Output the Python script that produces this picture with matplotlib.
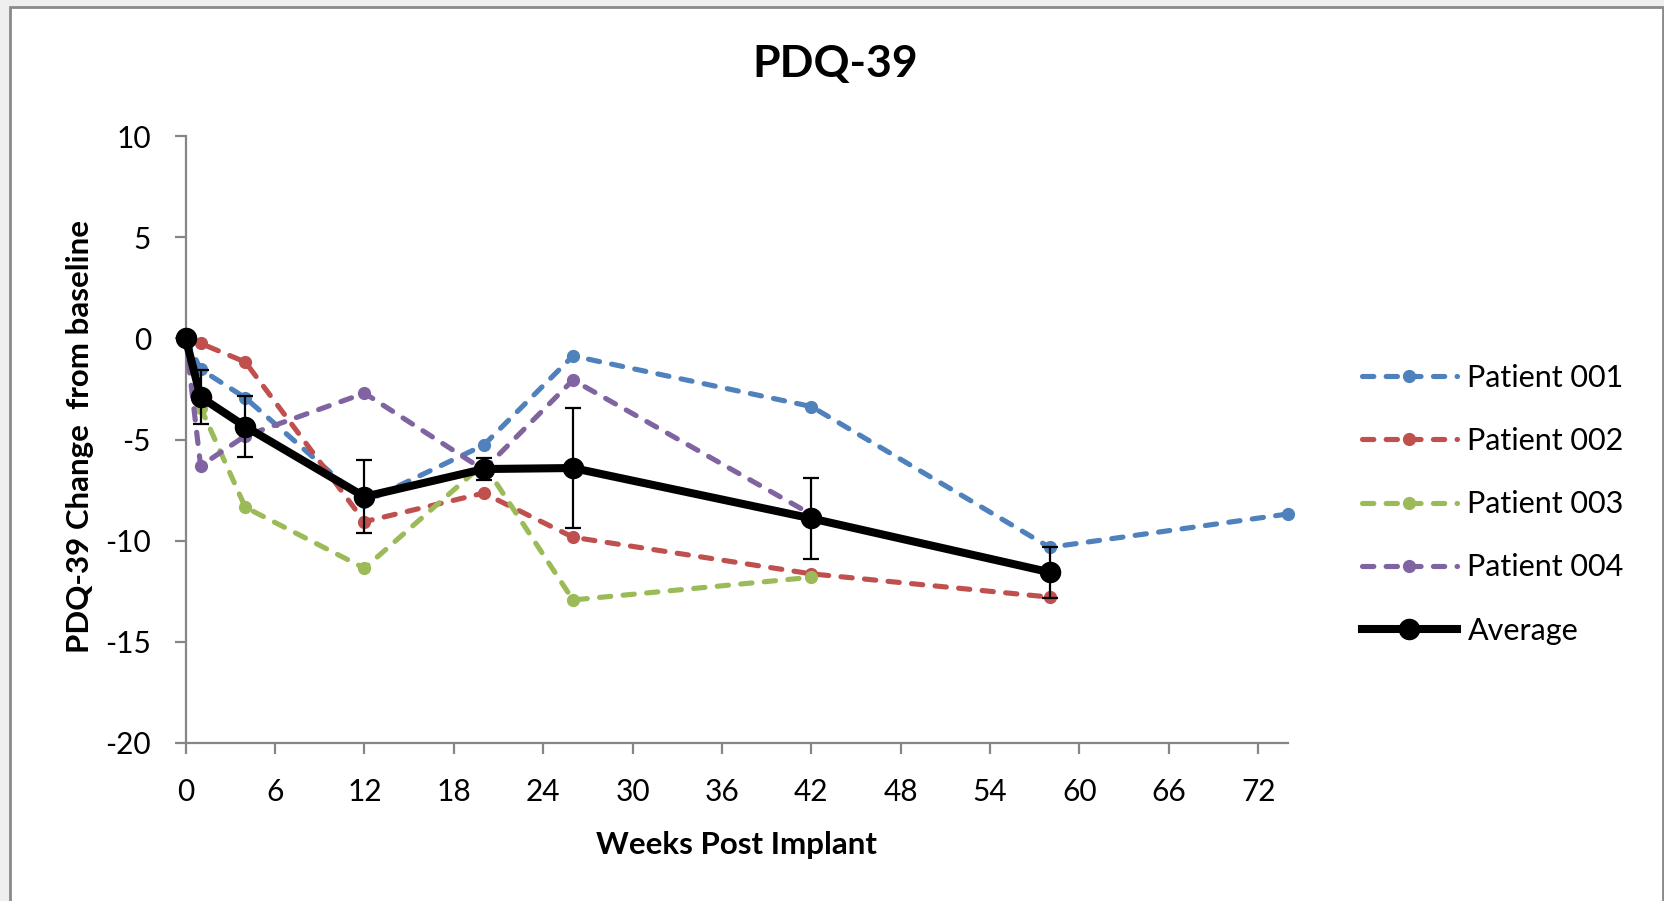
import numpy as np
import matplotlib
matplotlib.use('Agg')
import matplotlib.pyplot as plt
from matplotlib.patches import Rectangle

plt.rcParams['font.family'] = ['Lato', 'DejaVu Sans']
plt.rcParams['axes.unicode_minus'] = False

# weeks post implant
weeks = [0, 1, 4, 12, 20, 26, 42, 58, 74]

# change from baseline, one list per patient (None = no visit)
patient_001 = [0, -1.53, -2.94, -8.1, -5.28, -0.87, -3.37, -10.33, -8.68]
patient_002 = [0, -0.25, -1.17, -9.06, -7.65, -9.83, -11.64, -12.79, None]
patient_003 = [0, -3.42, -8.35, -11.36, -6.2, -12.93, -11.81, None, None]
patient_004 = [0, -6.3, -4.82, -2.71, -6.5, -2.06, -8.7, None, None]

avg_weeks = [0, 1, 4, 12, 20, 26, 42, 58]
average = [0, -2.9, -4.36, -7.83, -6.46, -6.41, -8.9, -11.56]
avg_err = [0, 1.32, 1.5, 1.8, 0.53, 2.95, 2.0, 1.26]

patients = {
    'Patient 001': (patient_001, '#4F81BD'),
    'Patient 002': (patient_002, '#C0504D'),
    'Patient 003': (patient_003, '#9BBB59'),
    'Patient 004': (patient_004, '#8064A2'),
}

fig = plt.figure(figsize=(16.65, 9.01), dpi=100)
fig.patch.set_facecolor('#efefef')
# white chart area with grey frame like the excel chart object
fig.patches.append(Rectangle((10 / 1665, -0.02), (1663 - 10) / 1665, 1.02 - 7 / 901,
                             transform=fig.transFigure, facecolor='white',
                             edgecolor='#8a8a8a', lw=2, zorder=-10))

ax = fig.add_axes([185.7 / 1665, 1 - 743 / 901, (1288 - 185.7) / 1665, (743 - 136) / 901])
ax.set_facecolor('none')

for name, (vals, col) in patients.items():
    x = [w for w, v in zip(weeks, vals) if v is not None]
    y = [v for v in vals if v is not None]
    ax.plot(x, y, color=col, lw=3.7, dashes=(2.2, 2.4), dash_capstyle='round',
            marker='o', markersize=8.5, label=name, clip_on=False, zorder=3)

# capsize is half the cap width in matplotlib
ax.errorbar(avg_weeks, average, yerr=avg_err, fmt='none', ecolor='black',
            elinewidth=1.6, capsize=5.8, capthick=1.6, zorder=4, clip_on=False)
ax.plot(avg_weeks, average, color='black', lw=5.8, marker='o', markersize=14.5,
        label='Average', clip_on=False, zorder=5)

ax.set_xlim(0, 74)
ax.set_ylim(-20, 10)
ax.set_xticks(np.arange(0, 73, 6))
ax.set_yticks(np.arange(-20, 11, 5))

for s in ['top', 'right']:
    ax.spines[s].set_visible(False)
for s in ['left', 'bottom']:
    ax.spines[s].set_color('#868686')
    ax.spines[s].set_linewidth(1.6)
ax.tick_params(axis='both', colors='#868686', width=1.6, length=8, labelsize=21.5,
               labelcolor='black')
ax.tick_params(axis='y', pad=17)
ax.tick_params(axis='x', pad=17)

ax.text(0.5, (743 - 845) / 607, 'Weeks Post Implant', transform=ax.transAxes,
        ha='center', va='center', fontsize=22.5, fontweight='bold')
ax.text((80 - 185.7) / 1102.3, 0.505, 'PDQ-39 Change  from baseline', transform=ax.transAxes,
        ha='center', va='center', rotation=90, fontsize=22.5, fontweight='bold')

fig.text(835 / 1665, 1 - 64 / 901, 'PDQ-39', ha='center', va='center',
         fontsize=32, fontweight='bold')

fig.legend(loc='upper left', bbox_to_anchor=(1362 / 1665, 1 - 364 / 901),
           frameon=False, fontsize=22, handlelength=3.1, handletextpad=0.35,
           labelspacing=1.15, borderpad=0, borderaxespad=0)

fig.savefig('out.png', dpi=100, facecolor=fig.get_facecolor())
